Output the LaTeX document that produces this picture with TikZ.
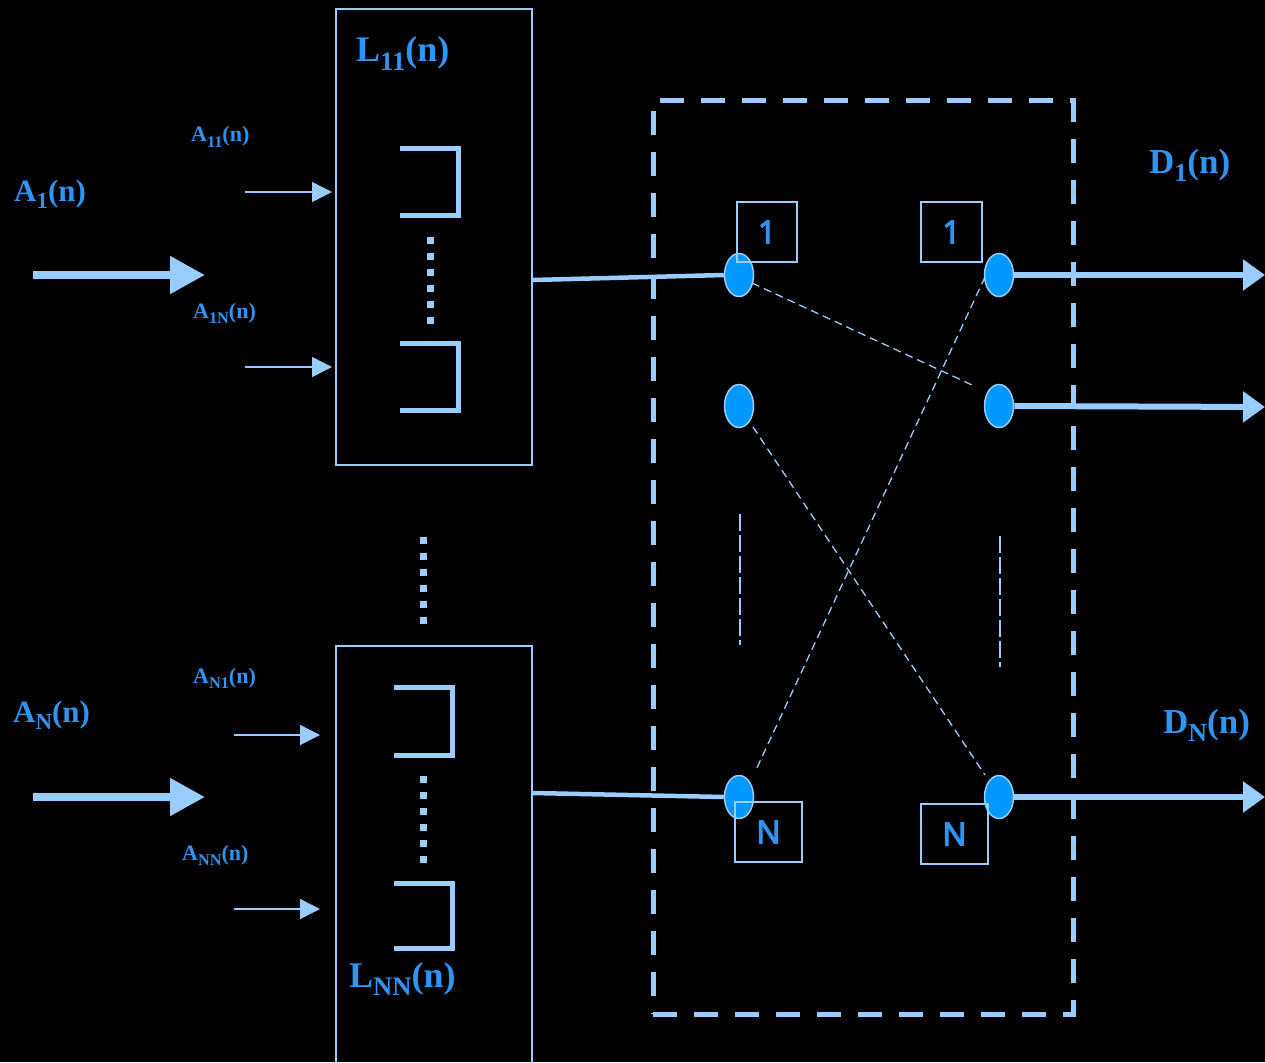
\documentclass[tikz,border=0pt]{standalone}
\usepackage{fontspec}
\setmainfont{Liberation Serif}
\newfontfamily\numfont{Noto Sans}[FakeBold=3]
\usetikzlibrary{arrows.meta,shapes.geometric}
\definecolor{wire}{RGB}{153,204,255}
\definecolor{ink}{RGB}{45,150,245}
\definecolor{portfill}{RGB}{0,153,255}
% lowered, reduced subscript used in the signal labels
\newcommand\lsub[1]{\raisebox{-0.24em}{\scalebox{0.74}{#1}}}

\begin{document}
\begin{tikzpicture}[x=1pt,y=-1pt,
  lbl/.style={text=ink, font=\bfseries\fontsize{#1}{#1}\selectfont, inner sep=0pt, anchor=base west},
  qbox/.style={draw=wire, line width=2pt, inner sep=0pt, anchor=north west},
  buf/.style={draw=wire, line width=5pt, line join=miter},
  dots/.style={draw=wire, line width=7pt, dash pattern=on 7pt off 9pt},
  bigarrow/.style={draw=wire, line width=8pt, -{Triangle[length=35pt,width=36pt]}},
  thinarrow/.style={draw=wire, line width=1.5pt, -{Triangle[length=20pt,width=20pt]}},
  outarrow/.style={draw=wire, line width=6pt, -{Triangle[length=22pt,width=30pt]}},
  feed/.style={draw=wire, line width=4.5pt},
  port/.style={ellipse, draw=wire, fill=portfill, line width=1.5pt, minimum width=29pt, minimum height=43pt, inner sep=0pt},
  nbox/.style={draw=wire, line width=1.5pt, text=ink, font=\numfont\fontsize{32}{32}\selectfont, inner sep=0pt},
  frame/.style={draw=wire, line width=5pt, dash pattern=on 24pt off 17pt, inner sep=0pt},
  xline/.style={draw=wire, line width=1.3pt, dash pattern=on 8pt off 5pt},
  vline/.style={draw=wire, line width=1.3pt, dash pattern=on 17pt off 4pt}]

% canvas
\fill[black] (0,0) rectangle (1265,1062);
\useasboundingbox (0,0) rectangle (1265,1062);
\clip (0,0) rectangle (1265,1062);

% switch fabric outline
\node[frame, minimum width=420pt, minimum height=913pt] (sw) at (863,557.5) {};

% queue groups
\node[qbox, minimum width=196pt, minimum height=456pt] (L1) at (335,8) {};
\node[qbox, minimum width=196pt, minimum height=440pt] (LN) at (335,645) {};

% buffers inside the queue groups
\draw[buf] (400,148) -- (458,148) -- (458,215) -- (400,215);
\draw[buf] (400,343) -- (458,343) -- (458,410) -- (400,410);
\draw[buf] (394,687) -- (452,687) -- (452,755) -- (394,755);
\draw[buf] (394,883) -- (452,883) -- (452,948) -- (394,948);

% ellipsis dots
\draw[dots] (430,237) -- (430,324);
\draw[dots] (423,776) -- (423,863);
\draw[dots] (423,537) -- (423,624);

% aggregate inputs
\coordinate (a1s) at (33,275);  \coordinate (a1e) at (205,275);
\coordinate (aNs) at (33,797);  \coordinate (aNe) at (205,797);
\draw[bigarrow] (a1s) -- (a1e);
\draw[bigarrow] (aNs) -- (aNe);

% per-queue inputs
\coordinate (a11) at (245,192);
\coordinate (a1N) at (245,367);
\coordinate (aN1) at (234,735);
\coordinate (aNN) at (234,909);
\draw[thinarrow, shorten >=3pt] (a11) -- (a11 -| L1.west);
\draw[thinarrow, shorten >=3pt] (a1N) -- (a1N -| L1.west);
\draw[thinarrow, shorten >=15pt] (aN1) -- (aN1 -| LN.west);
\draw[thinarrow, shorten >=15pt] (aNN) -- (aNN -| LN.west);

% switch ports
\node[port] (l1) at (739,275) {};
\node[port] (l2) at (739,406) {};
\node[port] (lN) at (739,797) {};
\node[port] (r1) at (999,275) {};
\node[port] (r2) at (999,406) {};
\node[port] (rN) at (999,797) {};

% queue outputs into the switch
\draw[feed] ([yshift=-43pt]L1.east) -- (l1.west);
\draw[feed] ([yshift=73pt]LN.east) -- (lN.west);

% departures
\coordinate (d1) at (1265,275);
\coordinate (d2) at (1265,407);
\coordinate (dN) at (1265,797);
\draw[outarrow] (r1.east) -- (d1);
\draw[outarrow] (r2.east) -- (d2);
\draw[outarrow] (rN.east) -- (dN);

% crossbar connections
\coordinate (c1a) at (752,283); \coordinate (c1b) at (972,385);
\coordinate (c2a) at (985,277); \coordinate (c2b) at (755,772);
\coordinate (c3a) at (753,427); \coordinate (c3b) at (985,775);
\draw[xline] (c1a) -- (c1b);
\draw[xline] (c2a) -- (c2b);
\draw[xline] (c3a) -- (c3b);

\coordinate (v1a) at (740,514); \coordinate (v1b) at (740,645);
\coordinate (v2a) at (1000,536); \coordinate (v2b) at (1000,667);
\draw[vline] (v1a) -- (v1b);
\draw[vline] (v2a) -- (v2b);

% port numbers
\node[nbox, minimum width=60pt, minimum height=60pt] (n1l) at (767,232) {1};
\node[nbox, minimum width=61pt, minimum height=60pt] (n1r) at (951.5,232) {1};
\node[nbox, minimum width=67pt, minimum height=60pt] (nNl) at (768.5,832) {N};
\node[nbox, minimum width=67pt, minimum height=60pt] (nNr) at (954.5,834) {N};

% labels
\node[lbl=31] (tA1) at (14,201) {A\lsub{1}(n)};
\node[lbl=31] (tAN) at (13,722) {A\lsub{N}(n)};
\node[lbl=22] (tA11) at (191,142) {A\lsub{11}(n)};
\node[lbl=22] (tA1N) at (193,318) {A\lsub{1N}(n)};
\node[lbl=22] (tAN1) at (193,683) {A\lsub{N1}(n)};
\node[lbl=22] (tANN) at (182,860) {A\lsub{NN}(n)};
\node[lbl=36] (tL11) at (356,62) {L\lsub{11}(n)};
\node[lbl=36] (tLNN) at (349,987) {L\lsub{NN}(n)};
\node[lbl=35] (tD1) at (1149,173) {D\lsub{1}(n)};
\node[lbl=35] (tDN) at (1163,733) {D\lsub{N}(n)};
\end{tikzpicture}
\end{document}
